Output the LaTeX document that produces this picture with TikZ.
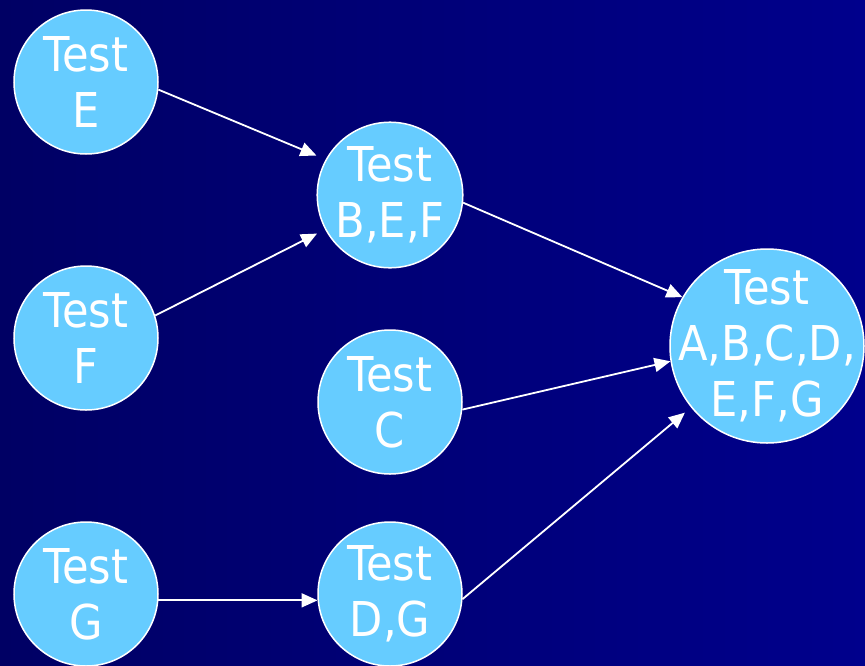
\documentclass[tikz,border=0pt]{standalone}
\usepackage{fontspec}
\usepackage{tikz}
\usetikzlibrary{arrows.meta}
\newfontfamily\testfont{DejaVu Sans Condensed}
\definecolor{NightBlue}{RGB}{0,0,100}
\definecolor{DeepBlue}{RGB}{0,0,140}
\definecolor{SkyBall}{RGB}{102,204,255}

\begin{document}
\begin{tikzpicture}[x=1pt,y=-1pt,>={Triangle[length=16pt,width=14pt]},
    test text/.style={align=center,text=white,font=\testfont\fontsize{48}{56}\selectfont},
    test/.style={circle,draw=white,line width=1.5pt,fill=SkyBall,minimum size=144pt,
      inner sep=0pt,test text},
    link/.style={->,white,line width=1.8pt}]
      \shade[left color=NightBlue,right color=DeepBlue] (0,0) rectangle (865,665);
      \useasboundingbox (0,0) rectangle (865,665);
      % first column
      \node[test] (E) at (86,82) {Test\\E};
      \node[test] (F) at (86,338) {Test\\F};
      \node[test] (G) at (86,594) {Test\\G};
      % second column
      \node[test] (BEF) at (390,195) {Test\\B,E,F};
      \node[test] (C) at (390,402) {Test\\C};
      \node[test] (DG) at (390,594) {Test\\D,G};
      % the whole set, text laid over so it may touch the rim
      \node[test,minimum size=194pt,
        label={[test text]center:Test\\A,B,C,D,\\E,F,G}] (ALL) at (767,346) {};
      \draw[link,shorten >=10pt] (E.-6) -- (BEF.151);
      \draw[link,shorten >=9pt] (F.18) -- (BEF.208);
      \draw[link] (G.-5) -- (DG.185);
      \draw[link] (BEF.-6) -- (ALL.150);
      \draw[link] (C.-6) -- (ALL.189);
      \draw[link,shorten >=8pt] (DG.-4) -- (ALL.219);
    \end{tikzpicture}
\end{document}
